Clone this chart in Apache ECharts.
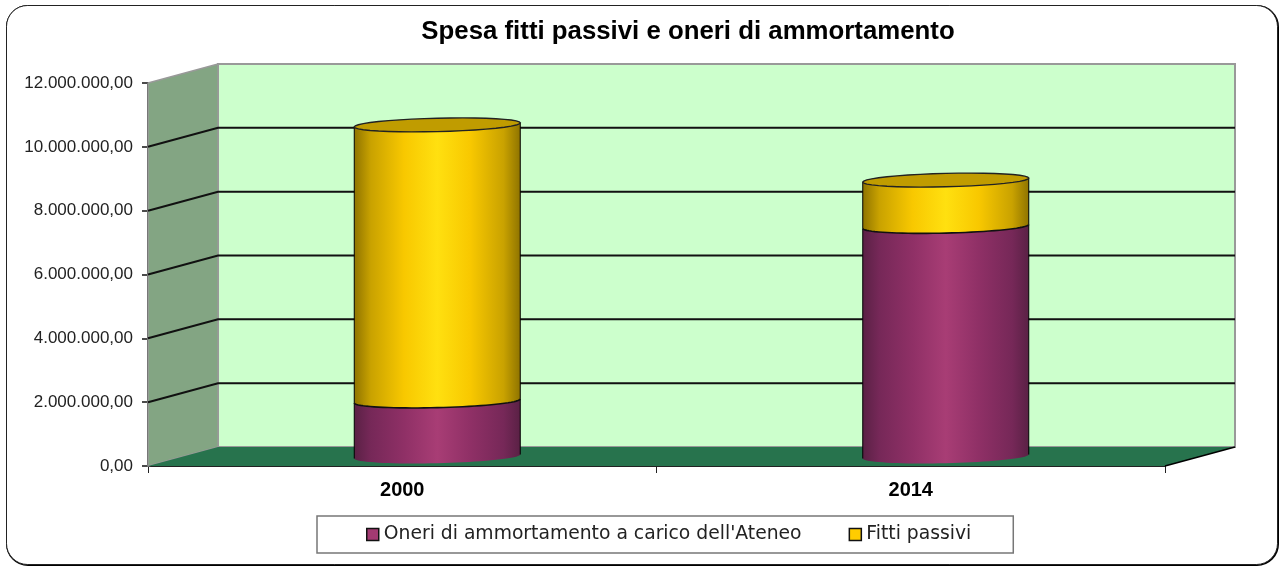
<!DOCTYPE html>
<html>
<head>
<meta charset="utf-8">
<style>html,body{margin:0;padding:0;background:#fff}#c{width:1281px;height:568px}</style>
<script src="https://cdn.jsdelivr.net/npm/echarts@6/dist/echarts.min.js"></script>
</head>
<body>
<div id="c"></div>
<script>
const categories = ['2000', '2014'];
const oneri = [1740000, 7210000];
const fitti = [8650000, 1450000];
const yTicks = [0, 2000000, 4000000, 6000000, 8000000, 10000000, 12000000];
const seriesNames = ["Oneri di ammortamento a carico dell'Ateneo", 'Fitti passivi'];

const FONT = '"Liberation Sans", Arial, sans-serif';
const DX = 70, DY = -19;
const CYL_W = 166, RY = 6.7, TILT = 2;

function fmt(v) {
  const s = String(Math.round(v)).replace(/\B(?=(\d{3})+$)/g, '.');
  return s + ',00';
}
function grad(stops) {
  const offs = [0, 0.1, 0.3, 0.5, 0.7, 0.9, 1];
  const cols = [stops[0], stops[1], stops[2], stops[3], stops[2], stops[1], stops[0]];
  return new echarts.graphic.LinearGradient(0, 0, 1, 0, offs.map((o, i) => ({offset: o, color: cols[i]})));
}
function arc(cx, cy, from, to) {
  const pts = [], n = 40;
  for (let i = 0; i <= n; i++) {
    const t = from + (to - from) * i / n;
    pts.push([cx + CYL_W / 2 * Math.cos(t), cy + RY * Math.sin(t) - TILT * Math.cos(t)]);
  }
  return pts;
}
function cylinder(values, bases, fill, capColor) {
  return function (params, api) {
    const i = api.value(0);
    const base = bases[i], val = values[i];
    const p0 = api.coord([categories[i], base]);
    const p1 = api.coord([categories[i], base + val]);
    const cx = p0[0] + DX / 2, yb = p0[1] + DY / 2, yt = p1[1] + DY / 2;
    const front = arc(cx, yt, 0, Math.PI);
    const bottom = arc(cx, yb, 0, Math.PI);
    const outline = {stroke: '#000', lineWidth: 1, fill: null};
    const children = [
      {type: 'polygon', shape: {points: front.slice().reverse().concat(bottom)}, style: {fill: fill}},
      {type: 'polyline', shape: {points: [front[0], bottom[0]]}, style: outline},
      {type: 'polyline', shape: {points: [front[front.length - 1], bottom[bottom.length - 1]]}, style: outline}
    ];
    if (capColor) {
      children.push({type: 'polyline', shape: {points: bottom},
        style: {stroke: '#111', lineWidth: 1.6, fill: null}});
      children.push({type: 'polygon', shape: {points: arc(cx, yt, 0, Math.PI * 2)},
        style: {fill: capColor, stroke: '#222', lineWidth: 1.4}});
    }
    return {type: 'group', children: children};
  };
}
const chart = echarts.init(document.getElementById('c'), null, {renderer: 'canvas'});
const zeros = categories.map(() => 0);
chart.setOption({
  animation: false,
  backgroundColor: '#fff',
  graphic: [{
    type: 'rect', z: -11, silent: true,
    shape: {x: 7, y: 6, width: 1271, height: 559, r: 21},
    style: {fill: '#000', stroke: '#000', lineWidth: 2}
  }, {
    type: 'rect', z: -10, silent: true,
    shape: {x: 6.5, y: 5.5, width: 1271, height: 559, r: 21},
    style: {fill: '#fff', stroke: '#222', lineWidth: 1}
  }],
  title: {
    text: 'Spesa fitti passivi e oneri di ammortamento',
    left: 683, top: 14, textAlign: 'center',
    textStyle: {fontFamily: FONT, fontWeight: 'bold', fontSize: 25.8, color: '#000'}
  },
  legend: {
    data: [
      {name: seriesNames[0], icon: 'rect', itemStyle: {color: '#a33a72', borderColor: '#111', borderWidth: 1.5}},
      {name: seriesNames[1], icon: 'rect', itemStyle: {color: '#ffcc00', borderColor: '#111', borderWidth: 1.5}}
    ],
    left: 317, top: 516,
    padding: [9, 42, 9, 49],
    itemWidth: 12, itemHeight: 12, itemGap: 47,
    backgroundColor: '#fff', borderColor: '#777', borderWidth: 1.5, borderRadius: 0,
    selectedMode: false,
    textStyle: {fontFamily: '"DejaVu Sans", sans-serif', fontSize: 18.75, color: '#222'}
  },
  grid: {left: 148, right: 116, top: 83, bottom: 102},
  xAxis: {
    type: 'category', data: categories,
    axisLine: {lineStyle: {color: '#222', width: 2}},
    axisTick: {show: true, length: 7, lineStyle: {color: '#222', width: 1}},
    axisLabel: {fontFamily: FONT, fontWeight: 'bold', fontSize: 20, color: '#000', margin: 14},
    splitLine: {show: false}
  },
  yAxis: {
    type: 'value', min: 0, max: 12000000, interval: 2000000,
    axisLine: {show: true, lineStyle: {color: '#111', width: 2}},
    axisTick: {show: true, length: 6, lineStyle: {color: '#111', width: 1.5}},
    axisLabel: {fontFamily: FONT, fontSize: 17, color: '#222', margin: 15, padding: [4, 0, 0, 0], formatter: fmt},
    splitLine: {show: false}
  },
  series: [
    {
      type: 'custom', silent: true, z: 1, clip: false,
      data: yTicks.map((t, i) => [i, t]),
      renderItem: function (params, api) {
        const idx = api.value(0), tick = api.value(1);
        const f0 = api.coord([categories[0], 0]);
        const bw = api.size([1, 0])[0];
        const xl = f0[0] - bw / 2, xr = f0[0] + bw * 1.5;
        const yb = f0[1], yt = api.coord([categories[0], yTicks[yTicks.length - 1]])[1];
        const y = api.coord([categories[0], tick])[1];
        const children = [];
        if (idx === 0) {
          children.push({type: 'polygon', shape: {points: [[xl + DX, yt + DY], [xr + DX, yt + DY], [xr + DX, yb + DY], [xl + DX, yb + DY]]},
            style: {fill: '#ccffcc', stroke: '#999', lineWidth: 2}});
          children.push({type: 'polygon', shape: {points: [[xl, yt], [xl + DX, yt + DY], [xl + DX, yb + DY], [xl, yb]]},
            style: {fill: '#83a583', stroke: '#999', lineWidth: 1.5}});
          children.push({type: 'polygon', shape: {points: [[xl, yb], [xl + DX, yb + DY], [xr + DX, yb + DY], [xr, yb]]},
            style: {fill: '#27734d', stroke: null}});
          children.push({type: 'polyline', shape: {points: [[xr, yb], [xr + DX, yb + DY]]},
            style: {stroke: '#000', lineWidth: 1.5, fill: null}});
        } else if (idx < yTicks.length - 1) {
          children.push({type: 'polyline', shape: {points: [[xl, y], [xl + DX, y + DY], [xr + DX, y + DY]]},
            style: {stroke: '#111', lineWidth: 2, fill: null}});
        }
        return {type: 'group', children: children};
      }
    },
    {
      name: seriesNames[0], type: 'custom', silent: true, z: 3, clip: false,
      itemStyle: {color: '#a33a72'},
      data: categories.map((c, i) => [i, oneri[i]]),
      renderItem: cylinder(oneri, zeros, grad(['#5a2145', '#762858', '#8f3066', '#a83d75']), null)
    },
    {
      name: seriesNames[1], type: 'custom', silent: true, z: 4, clip: false,
      itemStyle: {color: '#ffcc00'},
      data: categories.map((c, i) => [i, fitti[i]]),
      renderItem: cylinder(fitti, oneri, grad(['#8f7400', '#c9a200', '#f8c800', '#ffe010']), '#c09c00')
    }
  ]
});
</script>
</body>
</html>
